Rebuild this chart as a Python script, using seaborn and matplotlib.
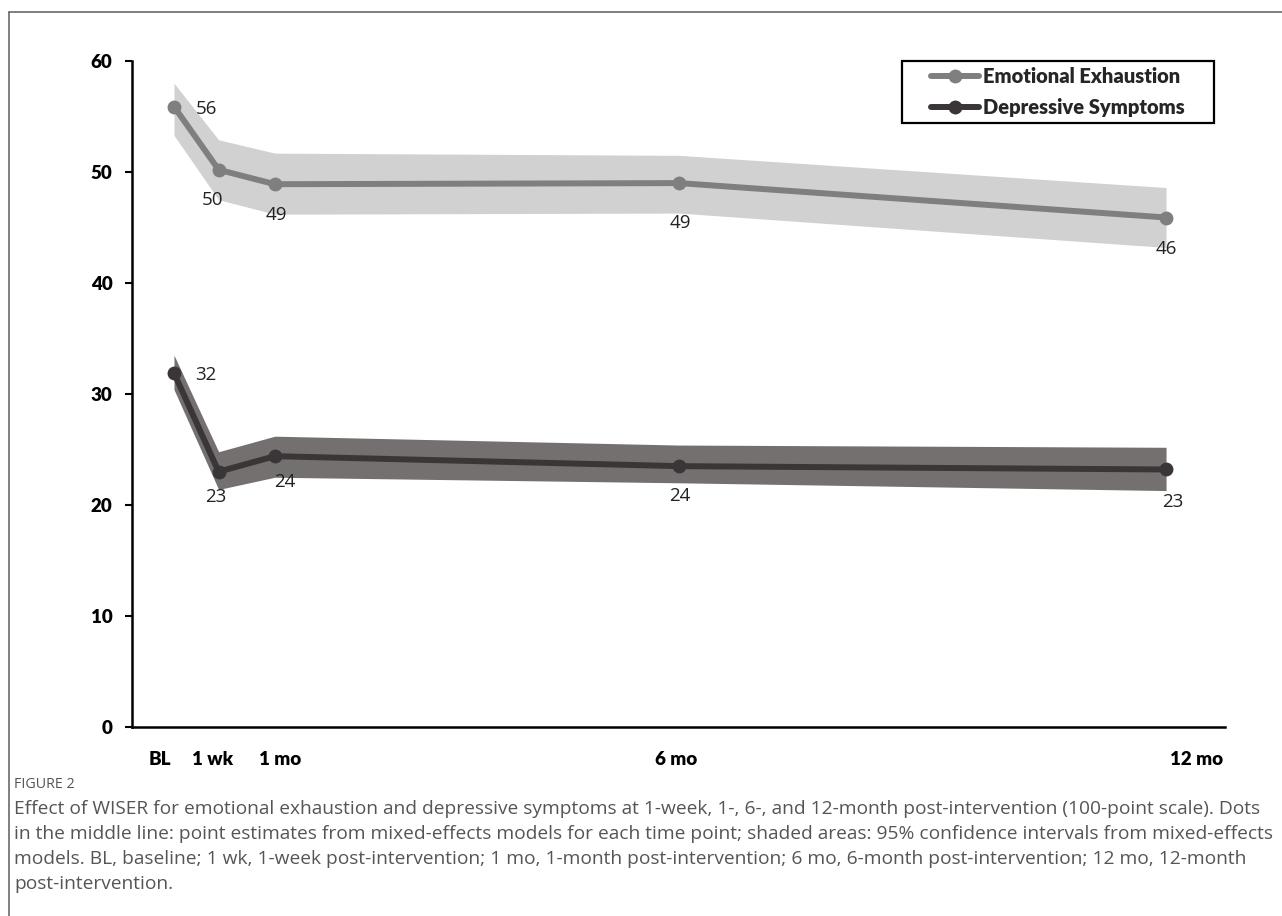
import matplotlib
matplotlib.use("Agg")
import matplotlib.pyplot as plt
import seaborn as sns
import pandas as pd
from matplotlib.lines import Line2D
from matplotlib.patches import Rectangle

# ---- data ----
time_labels = ["BL", "1 wk", "1 mo", "6 mo", "12 mo"]
time_x = [0.0, 0.54, 1.22, 6.11, 12.0]
ee_mean = [55.9, 50.2, 48.9, 49.0, 45.9]
ee_low = [53.3, 47.5, 46.2, 46.3, 43.2]
ee_high = [58.0, 52.9, 51.7, 51.5, 48.6]
ds_mean = [31.9, 23.0, 24.4, 23.5, 23.2]
ds_low = [30.4, 21.4, 22.5, 22.0, 21.3]
ds_high = [33.5, 24.8, 26.2, 25.4, 25.2]
ee_labels = ["56", "50", "49", "49", "46"]
ds_labels = ["32", "23", "24", "24", "23"]
series_names = ["Emotional Exhaustion", "Depressive Symptoms"]
y_ticks = [0, 10, 20, 30, 40, 50, 60]

# ---- layout / style ----
tick_x = [-0.17, 0.47, 1.28, 6.07, 12.37]
ee_off = [(32, -2), (-6, -30), (2, -31), (1, -40), (0, -31)]
ds_off = [(32, -2), (-3, -25), (10, -26), (1, -30), (7, -33)]
ee_line, ee_band = "#7f7f7f", "#d2d1d2"
ds_line, ds_band = "#3a3536", "#757070"

sns.set_theme(style="white")
plt.rcParams["font.family"] = ["Lato", "DejaVu Sans"]

W, H = 1282, 916
fig = plt.figure(figsize=(W / 100, H / 100), dpi=100)
ax = fig.add_axes([132 / W, 1 - 727 / H, (1225 - 132) / W, (727 - 61) / H])

df = pd.DataFrame({
    "time": time_x * 2,
    "score": ee_mean + ds_mean,
    "series": [series_names[0]] * 5 + [series_names[1]] * 5,
})

ax.fill_between(time_x, ee_low, ee_high, color=ee_band, lw=0, zorder=1)
ax.fill_between(time_x, ds_low, ds_high, color=ds_band, lw=0, zorder=1)

sns.lineplot(data=df, x="time", y="score", hue="series",
             palette=[ee_line, ds_line], marker="o", markersize=10,
             markeredgewidth=0, linewidth=4.3, legend=False, ax=ax, zorder=3)

for xs, ys, labs, offs in [(time_x, ee_mean, ee_labels, ee_off),
                           (time_x, ds_mean, ds_labels, ds_off)]:
    for x, y, t, (dx, dy) in zip(xs, ys, labs, offs):
        ax.annotate(t, (x, y), xytext=(dx, dy), textcoords="offset pixels",
                    ha="center", va="center", fontsize=13.5, color="#222222",
                    family=["Open Sans", "DejaVu Sans"])

ax.set_xlim(-0.508, 12.713)
ax.set_ylim(0, 60)
ax.set_yticks(y_ticks)
ax.set_yticklabels([str(v) for v in y_ticks], fontsize=13.5, fontweight="heavy")
ax.set_xticks(tick_x)
ax.set_xticklabels(time_labels, fontsize=13.5, fontweight="heavy")
ax.set_xlabel("")
ax.set_ylabel("")
for s in ["top", "right"]:
    ax.spines[s].set_visible(False)
for s in ["left", "bottom"]:
    ax.spines[s].set_color("black")
    ax.spines[s].set_linewidth(1.8)
ax.tick_params(axis="y", which="both", left=True, length=5, width=1.5,
               color="black", pad=9, labelcolor="black")
ax.tick_params(axis="x", bottom=False, length=0, pad=17, labelcolor="black")
ax.grid(False)

handles = [Line2D([0], [0], color=ee_line, lw=4.3, marker="o", markersize=10, markeredgewidth=0),
           Line2D([0], [0], color=ds_line, lw=4.3, marker="o", markersize=10, markeredgewidth=0)]
leg = ax.legend(handles, series_names, loc="center",
                bbox_to_anchor=((902 + 1214) / 2 / W, 1 - 92 / H),
                bbox_transform=fig.transFigure,
                frameon=False, prop={"weight": "heavy", "size": 14.5},
                handlelength=2.4, handletextpad=0.2, labelspacing=0.6,
                borderpad=0)
fig.add_artist(Rectangle((902 / W, 1 - 123 / H), (1214 - 902) / W, 62 / H,
                         transform=fig.transFigure, fill=False,
                         edgecolor="black", lw=1.6, zorder=5))

# figure frame
fig.add_artist(Line2D([9 / W, 9 / W], [0, 1 - 12 / H], transform=fig.transFigure,
                      color="#6a6a6a", lw=1.2))
fig.add_artist(Line2D([9 / W, 1], [1 - 12 / H, 1 - 12 / H], transform=fig.transFigure,
                      color="#6a6a6a", lw=1.2))

cap_font = ["Open Sans", "DejaVu Sans"]
fig.text(14 / W, 1 - 784 / H, "FIGURE 2", fontsize=10.3, color="#555555",
         family=cap_font, va="center", ha="left")
caption = [
    "Effect of WISER for emotional exhaustion and depressive symptoms at 1-week, 1-, 6-, and 12-month post-intervention (100-point scale). Dots",
    "in the middle line: point estimates from mixed-effects models for each time point; shaded areas: 95% confidence intervals from mixed-effects",
    "models. BL, baseline; 1 wk, 1-week post-intervention; 1 mo, 1-month post-intervention; 6 mo, 6-month post-intervention; 12 mo, 12-month",
    "post-intervention.",
]
for i, line in enumerate(caption):
    fig.text(14 / W, 1 - (809 + 25 * i) / H, line, fontsize=13.75, color="#555555",
             family=cap_font, va="center", ha="left")

fig.savefig("out.png", dpi=100)
